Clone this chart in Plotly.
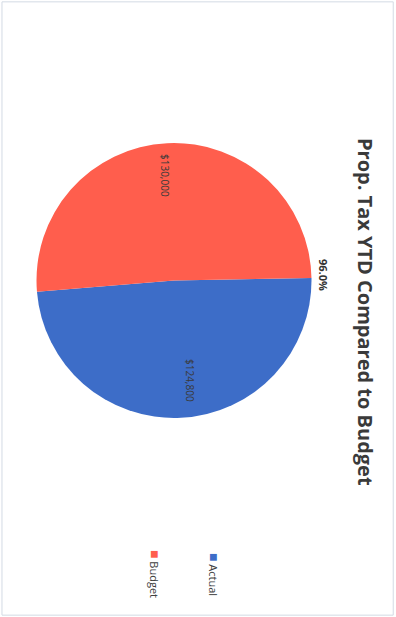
import plotly.graph_objects as go

categories = ["Actual", "Budget"]
values = [124800, 130000]
colors = ["#3D6DC8", "#FF5E4D"]
title_text = "Prop. Tax YTD Compared to Budget"
pct_text = f"{values[0] / values[1] * 100:.1f}%"

W, H = 396, 617

fig = go.Figure()
fig.add_trace(go.Pie(
    labels=categories,
    values=values,
    sort=False,
    direction="clockwise",
    rotation=89,
    marker=dict(colors=colors, line=dict(width=0)),
    textinfo="none",
    hoverinfo="label+value",
    showlegend=False,
    domain=dict(x=[36 / W, 312 / W], y=[1 - 418 / H, 1 - 143 / H]),
))

def ann(text, xpx, ypx, size, color="#333333"):
    return dict(text=text, x=xpx / W, y=1 - ypx / H, xref="paper", yref="paper",
                xanchor="center", yanchor="middle", showarrow=False, textangle=90,
                font=dict(family="Open Sans", size=size, color=color))

annotations = [
    ann(f"<b>{title_text}</b>", 365, 312, 20, "#3a3a3a"),
    ann(f"<b>{pct_text}</b>", 323, 275, 11),
]
# slice value labels (Actual, Budget)
for v, (xpx, ypx) in zip(values, [(190, 380), (165, 175)]):
    annotations.append(ann(f"${v:,.0f}", xpx, ypx, 10, "#3a3a3a"))
# legend entries
for name, col, xpx in zip(categories, colors, [215, 156]):
    annotations.append(ann(f"<span style='color:{col};font-size:14px'>■</span> {name}", xpx, 574, 11, "#404040"))

fig.update_layout(
    width=W, height=H,
    margin=dict(l=0, r=0, t=0, b=0),
    paper_bgcolor="white",
    plot_bgcolor="white",
    annotations=annotations,
    shapes=[dict(type="rect", xref="paper", yref="paper", x0=0.005, x1=0.993, y0=0.003, y1=0.997,
                 line=dict(color="#D3DAE4", width=1))],
)

fig.write_html("out.html")
